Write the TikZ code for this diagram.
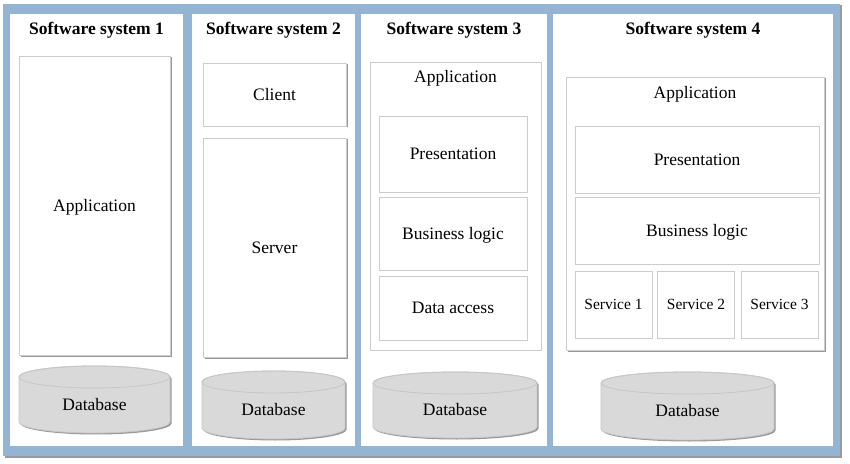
\documentclass[tikz,border=0pt]{standalone}
\usepackage{fontspec}
\setmainfont{Liberation Serif}
\usetikzlibrary{shadows}
\definecolor{frameblue}{RGB}{148,180,211}
\definecolor{dbgray}{RGB}{217,217,217}
\begin{document}
\begin{tikzpicture}[x=1pt,y=1pt,line join=round,
  box/.style={draw=gray!40,fill=white,line width=0.8pt,inner sep=0pt},
  shade/.style={drop shadow={shadow xshift=1.5pt,shadow yshift=-1.5pt,fill=gray!80,opacity=1}},
  title/.style={font=\fontsize{17.5}{20}\selectfont\bfseries,anchor=base},
  lbl/.style={font=\fontsize{17.5}{20}\selectfont,text height=15.6pt,text depth=3.8pt},
  small/.style={font=\fontsize{15.5}{18}\selectfont,text height=13.8pt,text depth=3.4pt}]
\useasboundingbox (0,0) rectangle (850,463);
% frame and columns
\fill[frameblue,shade] (3,7) rectangle (840,459);
\foreach \xa/\xb in {10/183,192/355,361/547,553/833}
\fill[white] (\xa,17) rectangle (\xb,449);
\foreach \x/\i in {96.5/1,273.5/2,454/3,693/4}
\node[title] (title\i) at (\x,428.5) {Software system \i};
% system 1 and 2
\node[box,shade,lbl,minimum width=151pt,minimum height=299pt] (app1) at (94.5,257.5) {Application};
\node[box,shade,lbl,minimum width=143pt,minimum height=63pt] (client) at (274.5,368.5) {Client};
\node[box,shade,lbl,minimum width=143pt,minimum height=219pt] (server) at (274.5,215.5) {Server};
% system 3
\node[box,minimum width=171pt,minimum height=288pt] (app3) at (455.5,257) {};
\node[lbl] (app3lbl) at (455.5,386) {Application};
\node[box,lbl,minimum width=148pt,minimum height=76pt] (pres3) at (453,309) {Presentation};
\node[box,lbl,minimum width=148pt,minimum height=73pt] (biz3) at (453,229.5) {Business logic};
\node[box,lbl,minimum width=148pt,minimum height=64pt] (data3) at (453,155) {Data access};
% system 4
\node[box,shade,minimum width=258pt,minimum height=273pt] (app4) at (695,249.5) {};
\node[lbl] (app4lbl) at (695,370) {Application};
\node[box,lbl,minimum width=244pt,minimum height=67pt] (pres4) at (697,303.5) {Presentation};
\node[box,lbl,minimum width=244pt,minimum height=67pt] (biz4) at (697,232.5) {Business logic};
\foreach \x/\i in {613.5/1,696/2,779.5/3}
\node[box,small,minimum width=77pt,minimum height=67pt] (serv\i) at (\x,158.5) {Service \i};
% databases
\foreach \cx/\rx/\yt/\yb/\nm in {94.5/75.5/97/30/db1,273.5/71.5/92/24/db2,455/82/91/25/db3,687.5/86.5/91/23/db4}{
\fill[gray!80,shift={(1.5pt,-1.5pt)}] ({\cx-\rx},{\yt-11}) -- ({\cx-\rx},{\yb+11}) arc[start angle=180,end angle=360,x radius=\rx pt,y radius=11pt] -- ({\cx+\rx},{\yt-11}) arc[start angle=0,end angle=180,x radius=\rx pt,y radius=11pt] -- cycle;
\draw[draw=gray!45,fill=dbgray,line width=0.8pt] ({\cx-\rx},{\yt-11}) -- ({\cx-\rx},{\yb+11}) arc[start angle=180,end angle=360,x radius=\rx pt,y radius=11pt] -- ({\cx+\rx},{\yt-11}) arc[start angle=0,end angle=180,x radius=\rx pt,y radius=11pt] -- cycle;
\draw[draw=gray!45,line width=0.8pt] (\cx,{\yt-11}) ellipse[x radius=\rx pt,y radius=11pt];
\node[lbl] (\nm) at (\cx,{(\yt+\yb)/2-5}) {Database};
}
\end{tikzpicture}
\end{document}
